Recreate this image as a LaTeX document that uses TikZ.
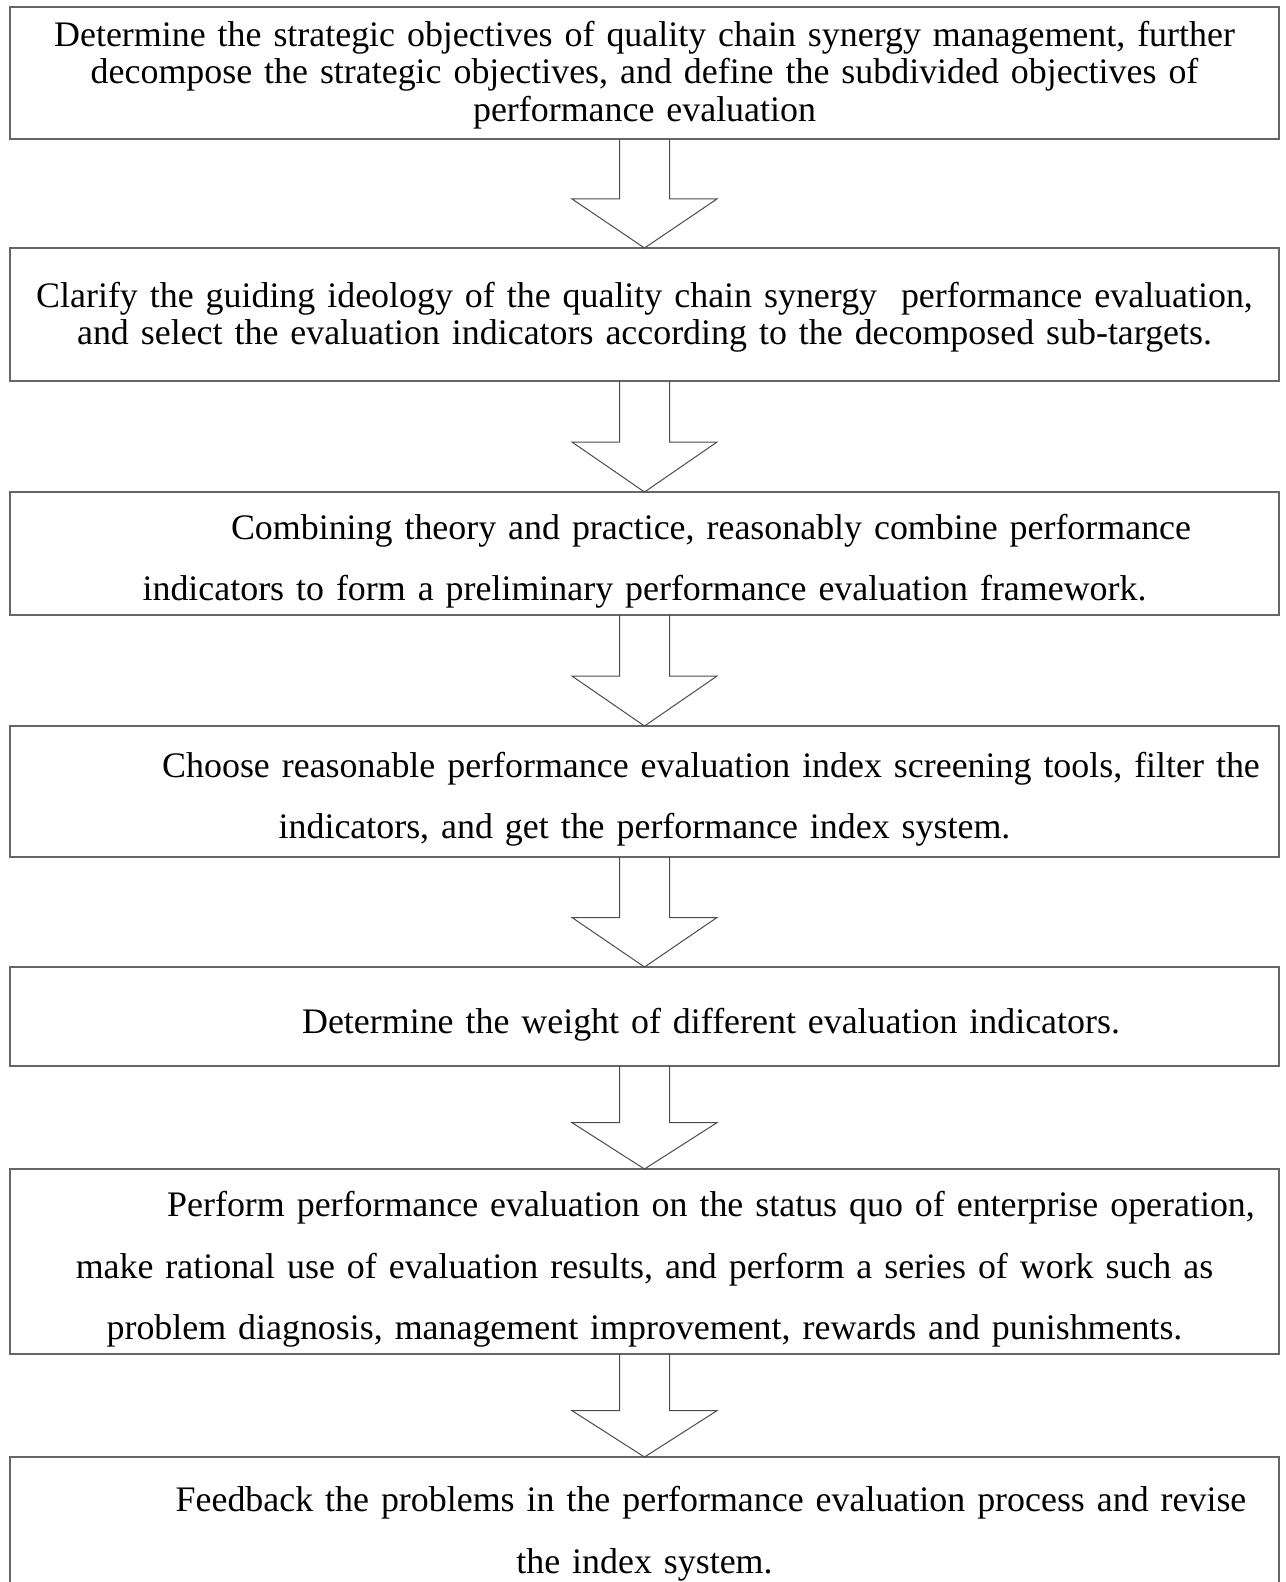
\documentclass[tikz,border=0pt]{standalone}
\usepackage{fontspec}
\setmainfont{Liberation Serif}
\usetikzlibrary{calc, positioning}
\tikzstyle{stage} = [draw=black!60, line width=1.4pt, rectangle, minimum width=1269pt, inner sep=0pt, outer sep=0pt, align=center, text width=1260pt, font=\fontsize{35.9}{37.6}\selectfont]
\tikzstyle{wide} = [font=\fontsize{35.9}{61.5}\selectfont]
\tikzstyle{hollow} = [draw=black!70, line width=1pt, line join=miter]
% strut to push the first line down, then the paragraph indent
\newcommand{\lift}[1]{\rule{0pt}{#1pt}}
\newcommand{\firstindent}{\lift{41}\hspace*{133pt}}

\begin{document}
\begin{tikzpicture}[x=1pt, y=-1pt]
\clip (0,0) rectangle (1285,1582);
\node [stage, minimum height=132pt] at (644.5,73) (obj) {\lift{29}Determine the strategic objectives of quality chain synergy management, further\\ decompose the strategic objectives, and define the subdivided objectives of\\ performance evaluation};
\node [stage, minimum height=133pt, below=109pt of obj] (guide) {\lift{31}Clarify the guiding ideology of the quality chain synergy \ performance evaluation,\\ and select the evaluation indicators according to the decomposed sub-targets.};
\node [stage, wide, minimum height=123pt, below=111pt of guide] (frame) {\firstindent Combining theory and practice, reasonably combine performance\\ indicators to form a preliminary performance evaluation framework.};
\node [stage, wide, minimum height=131pt, below=111pt of frame] (screen) {\firstindent Choose reasonable performance evaluation index screening tools, filter the\\ indicators, and get the performance index system.};
\node [stage, minimum height=99pt, below=110pt of screen] (weight) {\lift{2}\firstindent Determine the weight of different evaluation indicators.};
\node [stage, wide, minimum height=185pt, below=103pt of weight] (evalu) {\firstindent Perform performance evaluation on the status quo of enterprise operation,\\ make rational use of evaluation results, and perform a series of work such as\\ problem diagnosis, management improvement, rewards and punishments.};
\node [stage, wide, minimum height=138pt, below=103pt of evalu] (feedback) {\firstindent Feedback the problems in the performance evaluation process and revise\\ the index system.};

% hollow block arrows between the stages
\foreach \a/\b in {obj/guide, guide/frame, frame/screen, screen/weight, weight/evalu, evalu/feedback}{
  \coordinate (base) at ($(\a.south)!0.55!(\b.north)$);
  \draw [hollow] ($(\a.south)+(-25,0)$) -- ($(base)+(-25,0)$) -- ($(base)+(-72.5,0)$) -- (\b.north)
    -- ($(base)+(72.5,0)$) -- ($(base)+(25,0)$) -- ($(\a.south)+(25,0)$);
}
\end{tikzpicture}
\end{document}
